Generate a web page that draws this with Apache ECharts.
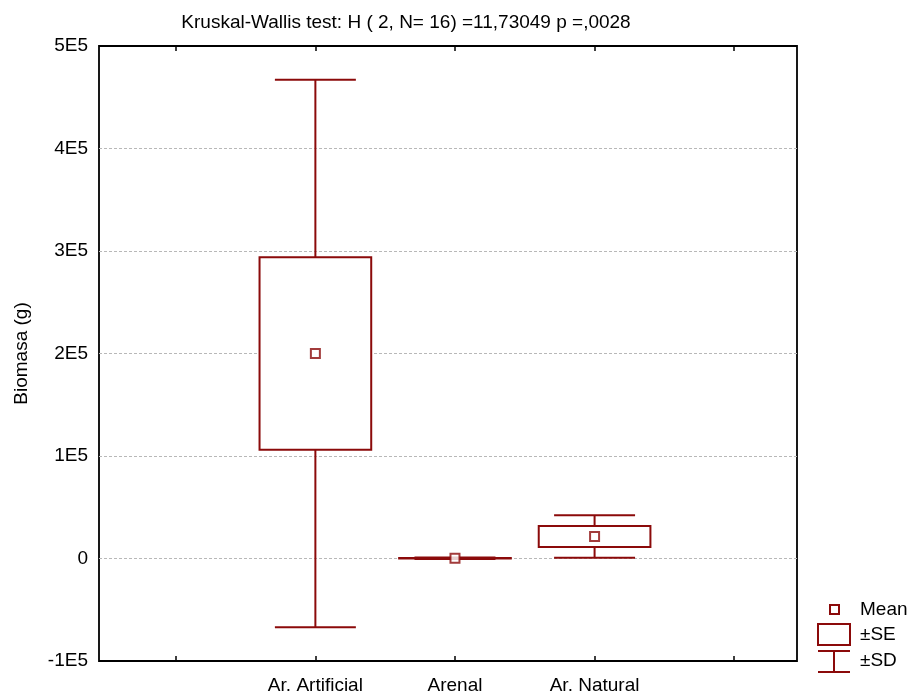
<!DOCTYPE html>
<html>
<head>
<meta charset="utf-8">
<script src="https://cdn.jsdelivr.net/npm/echarts@6/dist/echarts.min.js"></script>
<style>
html,body{margin:0;padding:0;background:#fff;}
#c{width:912px;height:695px;}
</style>
</head>
<body>
<div id="c"></div>
<script>
// ---- data ----
const categories = ['Ar. Artificial', 'Arenal', 'Ar. Natural'];
const positions = [1, 2, 3];
const means = [200000, 300, 21500];
const stdErrors = [94000, 250, 10300];
const stdDevs = [267000, 700, 20800];
const yTickValues = [-100000, 0, 100000, 200000, 300000, 400000, 500000];
const xTickValues = [0, 1, 2, 3, 4];
const titleText = 'Kruskal-Wallis test: H ( 2, N= 16) =11,73049 p =,0028';
const yAxisName = 'Biomasa (g)';
const legendLabels = ['Mean', '±SE', '±SD'];

const C = '#8B0A0A';
const FONT = 'Liberation Sans, Arial, sans-serif';
const FS = 19;

const boxData = positions.map((p, i) => [p, means[i], stdErrors[i], stdDevs[i]]);
const meanData = positions.map((p, i) => [p, means[i]]);

function fmtY(v) {
  if (v === 0) return '0';
  return (v / 100000) + 'E5';
}

const chart = echarts.init(document.getElementById('c'), null, {renderer: 'canvas'});

const option = {
  backgroundColor: '#fff',
  animation: false,
  title: {
    text: titleText,
    left: 401, top: 8, textAlign: 'center',
    textStyle: {fontFamily: FONT, fontSize: FS, fontWeight: 'normal', color: '#000'}
  },
  grid: {left: 99, right: 115, top: 46, bottom: 34, show: true, borderColor: '#000', borderWidth: 1.8, backgroundColor: 'transparent'},
  xAxis: [{
    type: 'value', min: -0.55, max: 4.45, position: 'bottom',
    axisLine: {show: false, onZero: false},
    splitLine: {show: false},
    axisTick: {show: true, inside: true, length: 5, customValues: xTickValues, lineStyle: {color: '#000', width: 1.5}},
    axisLabel: {
      show: true, customValues: positions, margin: 15,
      formatter: v => categories[positions.indexOf(Math.round(v))] || '',
      fontFamily: FONT, fontSize: FS, color: '#000'
    }
  }, {
    type: 'value', min: -0.55, max: 4.45, position: 'top',
    axisLine: {show: false, onZero: false},
    splitLine: {show: false},
    axisTick: {show: true, inside: true, length: 5, customValues: xTickValues, lineStyle: {color: '#000', width: 1.5}},
    axisLabel: {show: false}
  }],
  yAxis: {
    type: 'value', min: -100000, max: 500000, interval: 100000,
    name: yAxisName, nameLocation: 'middle', nameGap: 68,
    nameTextStyle: {fontFamily: FONT, fontSize: FS, color: '#000'},
    axisLine: {show: false, onZero: false},
    axisTick: {show: false},
    axisLabel: {formatter: fmtY, fontFamily: FONT, fontSize: FS, color: '#000', margin: 11},
    splitLine: {show: true, showMinLine: false, showMaxLine: false, lineStyle: {color: '#b8b8b8', type: [3, 2], width: 1}}
  },
  series: [{
    type: 'custom',
    data: boxData,
    z: 3,
    renderItem: function (params, api) {
      const x = api.value(0), m = api.value(1), se = api.value(2), sd = api.value(3);
      const unit = api.size([1, 0])[0];
      const boxHalf = unit * 0.40;
      const capHalf = unit * 0.29;
      const pc = api.coord([x, m]);
      const pSeT = api.coord([x, m + se]);
      const pSeB = api.coord([x, m - se]);
      const pSdT = api.coord([x, m + sd]);
      const pSdB = api.coord([x, m - sd]);
      const ls = {stroke: C, lineWidth: 2, fill: null};
      return {
        type: 'group',
        children: [
          {type: 'line', shape: {x1: pc[0], y1: pSdT[1], x2: pc[0], y2: pSeT[1]}, style: ls},
          {type: 'line', shape: {x1: pc[0], y1: pSeB[1], x2: pc[0], y2: pSdB[1]}, style: ls},
          {type: 'line', shape: {x1: pc[0] - capHalf, y1: pSdT[1], x2: pc[0] + capHalf, y2: pSdT[1]}, style: ls},
          {type: 'line', shape: {x1: pc[0] - capHalf, y1: pSdB[1], x2: pc[0] + capHalf, y2: pSdB[1]}, style: ls},
          {type: 'rect', shape: {x: pc[0] - boxHalf, y: pSeT[1], width: boxHalf * 2, height: Math.max(pSeB[1] - pSeT[1], 0.5)},
           style: {stroke: C, lineWidth: 2, fill: '#fff'}}
        ]
      };
    }
  }, {
    type: 'scatter',
    data: meanData,
    symbol: 'rect', symbolSize: 9, z: 4,
    itemStyle: {color: '#fff', borderColor: C, borderWidth: 2}
  }],
  graphic: [
    {type: 'rect', shape: {x: 830, y: 605, width: 9, height: 9}, style: {fill: '#fff', stroke: C, lineWidth: 2}},
    {type: 'text', x: 860, y: 610, style: {text: legendLabels[0], font: FS + 'px ' + FONT, fill: '#000', verticalAlign: 'middle'}},
    {type: 'rect', shape: {x: 818, y: 624, width: 32, height: 21}, style: {fill: '#fff', stroke: C, lineWidth: 2}},
    {type: 'text', x: 860, y: 635, style: {text: legendLabels[1], font: FS + 'px ' + FONT, fill: '#000', verticalAlign: 'middle'}},
    {type: 'line', shape: {x1: 818, y1: 651, x2: 850, y2: 651}, style: {stroke: C, lineWidth: 2}},
    {type: 'line', shape: {x1: 834, y1: 651, x2: 834, y2: 672}, style: {stroke: C, lineWidth: 2}},
    {type: 'line', shape: {x1: 818, y1: 672, x2: 850, y2: 672}, style: {stroke: C, lineWidth: 2}},
    {type: 'text', x: 860, y: 661, style: {text: legendLabels[2], font: FS + 'px ' + FONT, fill: '#000', verticalAlign: 'middle'}}
  ]
};
chart.setOption(option);
</script>
</body>
</html>
